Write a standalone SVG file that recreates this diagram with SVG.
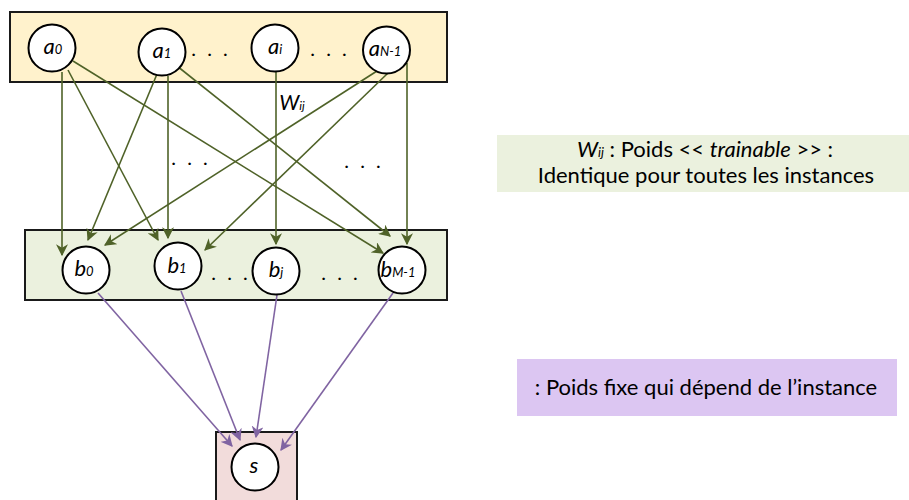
<svg xmlns="http://www.w3.org/2000/svg" width="909" height="500" viewBox="0 0 909 500">
<defs>
<style>
.box{stroke:#1a1a1a;stroke-width:2}
.node{fill:#fff;stroke:#000;stroke-width:2}
.lbl{font-family:Lato,"Liberation Sans",sans-serif;font-style:italic;font-size:22px;fill:#000;text-anchor:middle}
.sub{font-size:13px}
.dots{font-family:Lato,"Liberation Sans",sans-serif;font-size:20px;fill:#000;text-anchor:middle;letter-spacing:3px}
.g{stroke:#4F6228;stroke-width:1.6;fill:none;marker-end:url(#ag)}
.p{stroke:#8064A2;stroke-width:1.6;fill:none;marker-end:url(#ap)}
.leg{font-family:Lato,"Liberation Sans",sans-serif;font-size:22px;fill:#000;text-anchor:middle}
</style>
<marker id="ag" viewBox="0 0 10 10" refX="9" refY="5" markerWidth="7.5" markerHeight="7.5" markerUnits="strokeWidth" orient="auto">
<path d="M0,0 L10,5 L0,10 L3,5 Z" fill="#4F6228"/>
</marker>
<marker id="ap" viewBox="0 0 10 10" refX="9" refY="5" markerWidth="7.5" markerHeight="7.5" markerUnits="strokeWidth" orient="auto">
<path d="M0,0 L10,5 L0,10 L3,5 Z" fill="#8064A2"/>
</marker>
</defs>
<rect width="909" height="500" fill="#fff"/>

<g id="layerA">
<rect class="box" x="10" y="12" width="437" height="70" fill="#FFF2CC"/>
</g>
<g id="layerB">
<rect class="box" x="25" y="230" width="422" height="70" fill="#EBF1DE"/>
</g>
<g id="layerS">
<rect class="box" x="216" y="432" width="81" height="80" fill="#F2DCDB"/>
</g>

<g id="connectors">
<line class="g" x1="62" y1="72" x2="62" y2="255"/>
<line class="g" x1="157" y1="74" x2="88" y2="240"/>
<line class="g" x1="377" y1="71" x2="105" y2="245"/>
<line class="g" x1="68" y1="70" x2="158" y2="240"/>
<line class="g" x1="168" y1="76" x2="168" y2="238"/>
<line class="g" x1="388" y1="73" x2="205" y2="250"/>
<line class="g" x1="276" y1="72" x2="276" y2="244"/>
<line class="g" x1="177" y1="66" x2="390" y2="236"/>
<line class="g" x1="73" y1="61" x2="383" y2="253"/>
<line class="g" x1="407" y1="63" x2="407" y2="244"/>
<line class="p" x1="98" y1="293" x2="232" y2="446"/>
<line class="p" x1="181" y1="291" x2="240" y2="440"/>
<line class="p" x1="277" y1="295" x2="256" y2="437"/>
<line class="p" x1="393" y1="293" x2="281" y2="450"/>
</g>

<g id="a0"><circle class="node" cx="52" cy="48" r="23.5"/><text class="lbl" x="53" y="54">a<tspan class="sub">0</tspan></text></g>
<g id="a1"><circle class="node" cx="162" cy="52" r="23.5"/><text class="lbl" x="162" y="58">a<tspan class="sub">1</tspan></text></g>
<g id="ai"><circle class="node" cx="275" cy="48" r="23.5"/><text class="lbl" x="275" y="54">a<tspan class="sub">i</tspan></text></g>
<g id="aN1"><circle class="node" cx="386.5" cy="50" r="23.5"/><text class="lbl" x="385" y="56">a<tspan class="sub">N-1</tspan></text></g>

<g id="b0"><circle class="node" cx="86" cy="270" r="23.5"/><text class="lbl" x="84" y="276">b<tspan class="sub">0</tspan></text></g>
<g id="b1"><circle class="node" cx="178" cy="266" r="23.5"/><text class="lbl" x="177" y="273">b<tspan class="sub">1</tspan></text></g>
<g id="bj"><circle class="node" cx="276" cy="271" r="23.5"/><text class="lbl" x="276" y="277">b<tspan class="sub">j</tspan></text></g>
<g id="bM1"><circle class="node" cx="402" cy="270" r="23.5"/><text class="lbl" x="398" y="277">b<tspan class="sub">M-1</tspan></text></g>

<g id="s"><circle class="node" cx="255" cy="467" r="23.5"/><text class="lbl" x="254" y="473">s</text></g>

<g id="dots">
<text class="dots" x="211" y="56">. . .</text>
<text class="dots" x="330" y="56">. . .</text>
<text class="dots" x="191" y="165">. . .</text>
<text class="dots" x="364" y="168">. . .</text>
<text class="dots" x="231" y="280">. . .</text>
<text class="dots" x="341" y="280">. . .</text>
</g>

<g id="wij-label"><text class="lbl" x="292" y="110" style="font-size:21px">W<tspan class="sub" style="font-size:12px">ij</tspan></text></g>

<g id="legend-trainable">
<rect x="497" y="135" width="412" height="57" fill="#EBF1DE"/>
<text class="leg" x="705" y="157"><tspan font-style="italic">W<tspan font-size="13">ij</tspan></tspan> : Poids &lt;&lt; <tspan font-style="italic">trainable</tspan> &gt;&gt; :</text>
<text class="leg" x="706" y="183">Identique pour toutes les instances</text>
</g>
<g id="legend-fixe">
<rect x="517" y="359" width="380" height="57" fill="#DCC6F2"/>
<text class="leg" x="706" y="395">: Poids fixe qui dépend de l’instance</text>
</g>
</svg>
